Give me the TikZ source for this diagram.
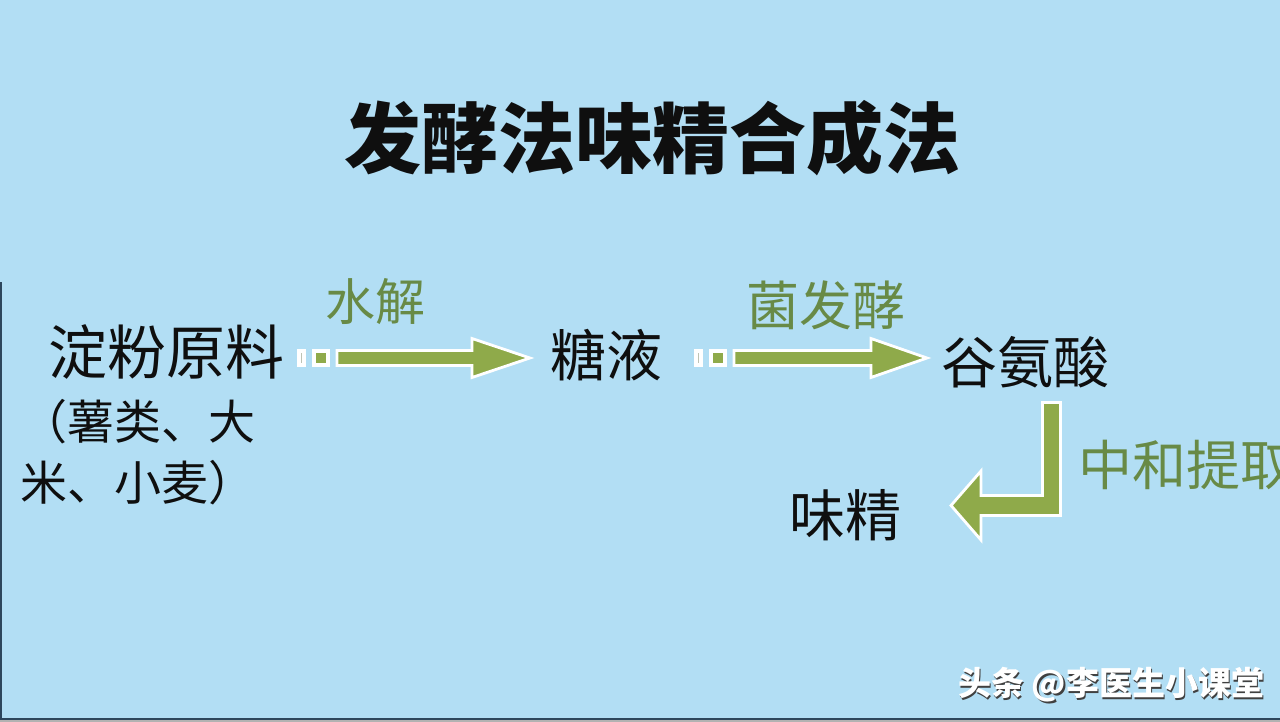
\documentclass[tikz,border=0pt]{standalone}
\usepackage{fontspec}
\newfontfamily\cjk{Noto Sans CJK SC}
\definecolor{bg}{RGB}{178,222,244}
\definecolor{arrowgreen}{RGB}{143,170,74}
\definecolor{labelgreen}{RGB}{104,138,70}
\definecolor{framecol}{RGB}{45,70,92}
\definecolor{ink}{RGB}{15,15,15}
\definecolor{tailgray}{RGB}{190,195,180}
\begin{document}
\begin{tikzpicture}[x=1pt,y=-1pt,
  title/.style={font=\cjk\bfseries\fontsize{77}{80}\selectfont, text=ink, inner sep=0pt},
  txt/.style={font=\cjk\fontsize{56}{60}\selectfont, text=ink, inner sep=0pt},
  small/.style={font=\cjk\fontsize{47}{50}\selectfont, text=ink, inner sep=0pt},
  lbl/.style={font=\cjk\fontsize{50}{54}\selectfont, text=labelgreen, inner sep=0pt},
  blockarrow/.style={draw=white, line width=2.8pt, fill=arrowgreen, line join=miter},
  tailbox/.style={fill=white},
  wmark/.style={font=\cjk\bfseries\fontsize{33}{36}\selectfont, inner sep=0pt}]
\fill[bg] (0,0) rectangle (1280,722);
\useasboundingbox (0,0) rectangle (1280,722);
% frame
\fill[gray!60] (0,720) rectangle (1280,722);
\draw[framecol, line width=2.5pt] (1.2,282) -- (1.2,719) -- (1280,719);

% title
\node[title] (title) at (652,138) {发酵法味精合成法};

% texts
\node[txt, anchor=west, font=\cjk\fontsize{59}{62}\selectfont] (starch) at (48,352) {淀粉原料};
\node[small, anchor=west] (src1) at (20,422) {（薯类、大};
\node[small, anchor=west] (src2) at (20,483) {米、小麦）};
\node[txt] (sugar) at (606,355) {糖液};
\node[txt] (glu) at (1025,362) {谷氨酸};
\node[txt] (msg) at (845,515) {味精};

% labels
\node[lbl] (l1) at (375,302) {水解};
\node[lbl, font=\cjk\fontsize{53}{56}\selectfont] (l2) at (826,305) {菌发酵};
\node[lbl, anchor=west, font=\cjk\fontsize{54}{58}\selectfont] (l3) at (1078,465) {中和提取};

% arrow 1
\fill[tailbox] (297,349) rectangle (306,367);
\draw[tailgray, line width=1.5pt] (301.5,353) -- (301.5,363);
\fill[tailbox] (312,349) rectangle (330,367);
\fill[arrowgreen] (316,353) rectangle (326,363);
\draw[blockarrow] (337,350.5) -- (472,350.5) -- (472,338.5) -- (530,358) -- (472,377.5) -- (472,365.5) -- (337,365.5) -- cycle;

% arrow 2
\fill[tailbox] (694,349) rectangle (703,367);
\draw[tailgray, line width=1.5pt] (698.5,353) -- (698.5,363);
\fill[tailbox] (709,349) rectangle (727,367);
\fill[arrowgreen] (713,353) rectangle (723,363);
\draw[blockarrow] (734,350.5) -- (871,350.5) -- (871,338.5) -- (927,358) -- (871,377.5) -- (871,365.5) -- (734,365.5) -- cycle;

% bent arrow
\draw[blockarrow] (1042.5,402.5) -- (1060.5,402.5) -- (1060.5,515.5) -- (981,515.5) -- (981,540) -- (951,505.5) -- (981,471) -- (981,495.5) -- (1042.5,495.5) -- cycle;

% watermark
\node[wmark, text=black!75, anchor=west] (wmshadow) at (959.5,686.5) {头条 @李医生小课堂};
\node[wmark, text=white, anchor=west] (wm) at (958,685) {头条 @李医生小课堂};
\end{tikzpicture}
\end{document}
